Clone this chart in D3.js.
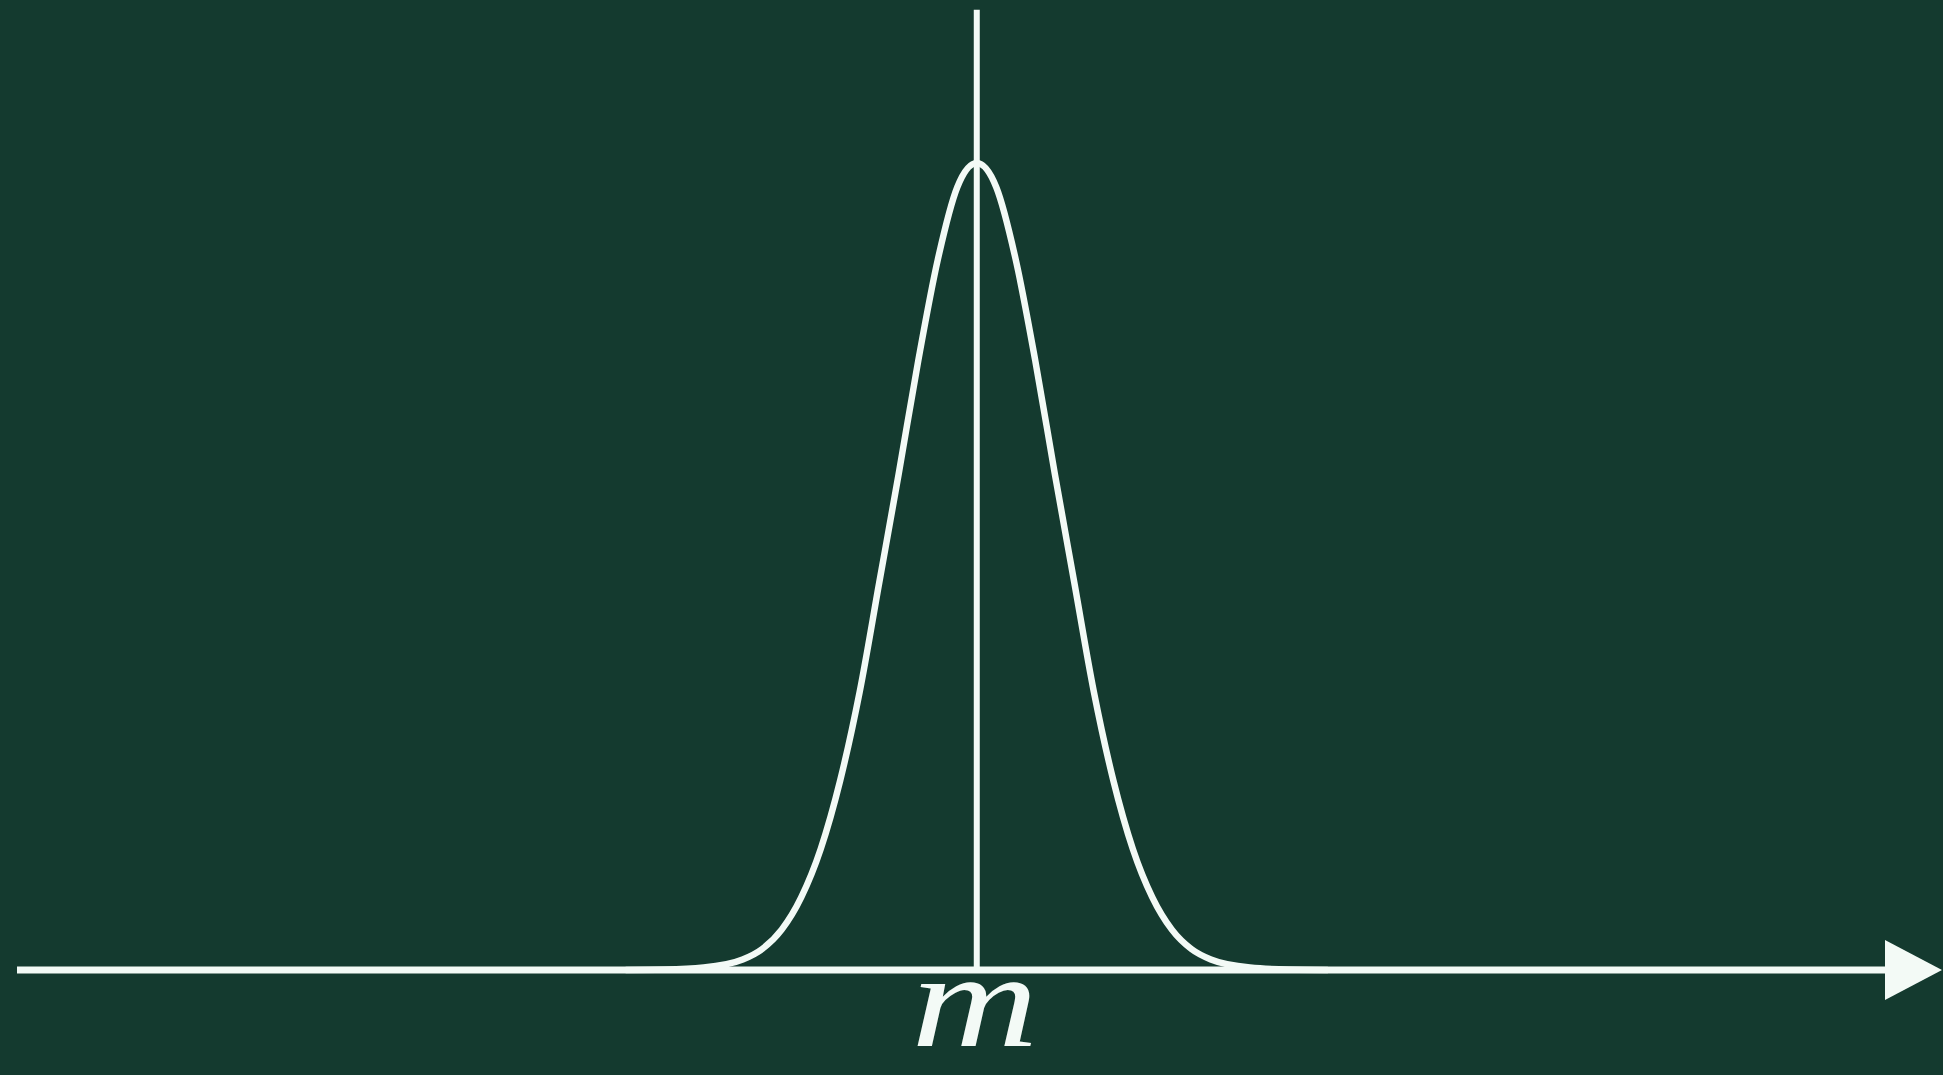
<!DOCTYPE html>
<html>
<head>
<meta charset="utf-8">
<script src="https://cdn.jsdelivr.net/npm/d3@7"></script>
<style>
  html, body { margin: 0; padding: 0; background: #143a2f; overflow: hidden; }
  svg { display: block; }
</style>
</head>
<body>
<svg id="chart" width="1943" height="1075"></svg>
<script>
// Bell-shaped density around the mean m (x in units of spread, y relative to the peak)
const curveX = [-4.5, -4.0, -3.5, -3.0, -2.75, -2.5, -2.25, -2.0, -1.75, -1.5, -1.25, -1.0, -0.75, -0.5, -0.25, 0,
                 0.25, 0.5, 0.75, 1.0, 1.25, 1.5, 1.75, 2.0, 2.25, 2.5, 2.75, 3.0, 3.5, 4.0, 4.5];
const curveY = [0, 0.0005, 0.003, 0.013, 0.026, 0.05, 0.09, 0.15, 0.235, 0.345, 0.48, 0.615, 0.755, 0.88, 0.97, 1.0,
                 0.97, 0.88, 0.755, 0.615, 0.48, 0.345, 0.235, 0.15, 0.09, 0.05, 0.026, 0.013, 0.003, 0.0005, 0];

// Axis extent and the mean marker
const axisDomain = [-12.3, 12.37];
const meanValue = 0;
const meanLineTop = 1.19;
const meanLabel = "m";

const W = 1943, H = 1075;
const ink = "#f3faf6";

const x = d3.scaleLinear().domain(axisDomain).range([17, 1942]);
const y = d3.scaleLinear().domain([0, 1]).range([970, 163]);

const svg = d3.select("#chart");
svg.append("rect").attr("width", W).attr("height", H).attr("fill", "#143a2f");

// Horizontal axis with arrowhead
const arrowLen = 57, arrowHalf = 30;
const x0 = x(axisDomain[0]), x1 = x(axisDomain[1]), y0 = y(0);
svg.append("line")
  .attr("x1", x0).attr("x2", x1 - arrowLen + 2)
  .attr("y1", y0).attr("y2", y0)
  .attr("stroke", ink).attr("stroke-width", 7);
svg.append("path")
  .attr("d", `M${x1 - arrowLen},${y0 - arrowHalf}L${x1},${y0}L${x1 - arrowLen},${y0 + arrowHalf}Z`)
  .attr("fill", ink);

// Vertical line through the mean
svg.append("line")
  .attr("x1", x(meanValue)).attr("x2", x(meanValue))
  .attr("y1", y(meanLineTop)).attr("y2", y0)
  .attr("stroke", ink).attr("stroke-width", 6);

// Density curve
const pts = curveX.map((v, i) => [v, curveY[i]]);
const line = d3.line()
  .x(d => x(d[0]))
  .y(d => y(d[1]))
  .curve(d3.curveMonotoneX);
svg.append("path")
  .datum(pts)
  .attr("d", line)
  .attr("fill", "none")
  .attr("stroke", ink)
  .attr("stroke-width", 6.5)
  .attr("stroke-linejoin", "round");

// Label under the mean
svg.append("text")
  .attr("transform", `translate(${x(meanValue) - 2},1046) scale(1.42,1.1)`)
  .attr("text-anchor", "middle")
  .attr("font-family", "'Liberation Serif', 'DejaVu Serif', serif")
  .attr("font-style", "italic")
  .attr("font-size", 124)
  .attr("fill", ink)
  .text(meanLabel);
</script>
</body>
</html>
